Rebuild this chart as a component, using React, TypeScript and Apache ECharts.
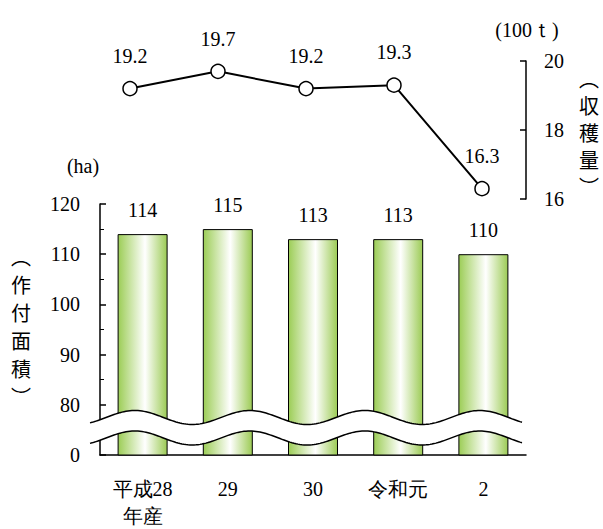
import React, { useEffect, useRef } from "react";
import * as echarts from "echarts";

const categories = ["平成28\n年産", "29", "30", "令和元", "2"];
const areaValues = [114, 115, 113, 113, 110];
const harvestValues = [19.2, 19.7, 19.2, 19.3, 16.3];
const areaAxisMin = 70; // displayed as 0 (broken axis)
const areaAxisMax = 120;
const harvestMin = 16;
const harvestMax = 20;
const leftName = ["︵", "作", "付", "面", "積", "︶"];
const rightName = ["︵", "収", "穫", "量", "︶"];

const FONT = "Liberation Serif";
const CJK = "Noto Sans CJK JP";
const FS = 20;

function wavePoints(x0: number, x1: number, cy: number, amp: number, phase0: number, period: number) {
  const pts: number[][] = [];
  for (let x = x0; x <= x1; x += 2) {
    pts.push([x, cy - amp * Math.sin((2 * Math.PI * (x - phase0)) / period)]);
  }
  return pts;
}

function verticalName(chars: string[], cx: number, y0: number, step: number) {
  return chars.map((c, i) => ({
    type: "text",
    x: cx,
    y: y0 + i * step,
    style: { text: c, fontSize: 20, fontFamily: CJK, fill: "#000", align: "center", verticalAlign: "middle" },
  }));
}

export default function App() {
  const ref = useRef<HTMLDivElement>(null);
  useEffect(() => {
    document.body.style.margin = "0";
    if (!ref.current) return;
    const chart = echarts.init(ref.current, null, { renderer: "svg" });
    const upper = wavePoints(90, 522, 417.5, 7, 106, 115);
    const lower = wavePoints(90, 522, 438, 7, 106, 115);
    const band = upper.concat(lower.slice().reverse());
    const option: any = {
      animation: false,
      backgroundColor: "#fff",
      textStyle: { fontFamily: FONT, color: "#000" },
      grid: [
        { left: 100, right: 77, top: 204, bottom: 69 },
        { left: 86, right: 77, top: 61, bottom: 330 },
      ],
      xAxis: [
        {
          type: "category",
          gridIndex: 0,
          data: categories,
          axisTick: { show: false },
          axisLine: { lineStyle: { color: "#000", width: 1.5 } },
          axisLabel: { margin: 20, fontSize: FS, lineHeight: 27, color: "#000", fontFamily: FONT },
        },
        { type: "category", gridIndex: 1, data: categories, show: false },
      ],
      yAxis: [
        {
          type: "value",
          gridIndex: 0,
          min: areaAxisMin,
          max: areaAxisMax,
          interval: 10,
          axisLine: { show: true, lineStyle: { color: "#000", width: 1.5 } },
          axisTick: { show: true, inside: true, length: 6, lineStyle: { color: "#000", width: 1.5 } },
          minorTick: { show: true, splitNumber: 2, length: 4, lineStyle: { color: "#000", width: 1 } },
          splitLine: { show: false },
          axisLabel: {
            margin: 20,
            fontSize: FS,
            color: "#000",
            fontFamily: FONT,
            formatter: (v: number) => (v === areaAxisMin ? "0" : String(v)),
          },
        },
        {
          type: "value",
          gridIndex: 1,
          position: "right",
          min: harvestMin,
          max: harvestMax,
          interval: 2,
          axisLine: { show: true, lineStyle: { color: "#000", width: 1.5 } },
          axisTick: { show: true, inside: true, length: 6, lineStyle: { color: "#000", width: 1.5 } },
          splitLine: { show: false },
          axisLabel: { margin: 18, fontSize: FS, color: "#000", fontFamily: FONT },
        },
      ],
      series: [
        {
          type: "bar",
          xAxisIndex: 0,
          yAxisIndex: 0,
          data: areaValues,
          barWidth: 50,
          itemStyle: {
            color: new echarts.graphic.LinearGradient(0, 0, 1, 0, [
              { offset: 0, color: "#9ccd56" },
              { offset: 0.55, color: "#ffffff" },
              { offset: 1, color: "#9ccb55" },
            ]),
            borderColor: "#000",
            borderWidth: 1,
          },
          label: { show: true, position: "top", distance: 14, fontSize: FS, color: "#000", fontFamily: FONT },
        },
        {
          type: "line",
          xAxisIndex: 1,
          yAxisIndex: 1,
          data: harvestValues,
          symbol: "circle",
          symbolSize: 14,
          lineStyle: { color: "#000", width: 2 },
          itemStyle: { color: "#fff", borderColor: "#000", borderWidth: 1.5 },
          label: {
            show: true,
            position: "top",
            distance: 15,
            fontSize: FS,
            color: "#000",
            fontFamily: FONT,
            formatter: (p: any) => p.value.toFixed(1),
          },
          z: 5,
        },
      ],
      graphic: [
        { type: "polygon", shape: { points: band }, style: { fill: "#fff", stroke: "none" }, z: 100 },
        { type: "polyline", shape: { points: upper }, style: { stroke: "#000", lineWidth: 1.5, fill: "none" }, z: 101 },
        { type: "polyline", shape: { points: lower }, style: { stroke: "#000", lineWidth: 1.5, fill: "none" }, z: 101 },
        {
          type: "text",
          x: 83,
          y: 166,
          style: { text: "(ha)", fontSize: FS, fontFamily: FONT, fill: "#000", align: "center", verticalAlign: "middle" },
        },
        {
          type: "text",
          x: 527,
          y: 30,
          style: { text: "(100ｔ)", fontSize: FS, fontFamily: FONT, fill: "#000", align: "center", verticalAlign: "middle" },
        },
        ...verticalName(leftName, 21, 256, 28),
        ...verticalName(rightName, 589, 78, 27),
      ],
    };
    chart.setOption(option);
    return () => chart.dispose();
  }, []);
  return <div ref={ref} style={{ width: 603, height: 529 }} />;
}
